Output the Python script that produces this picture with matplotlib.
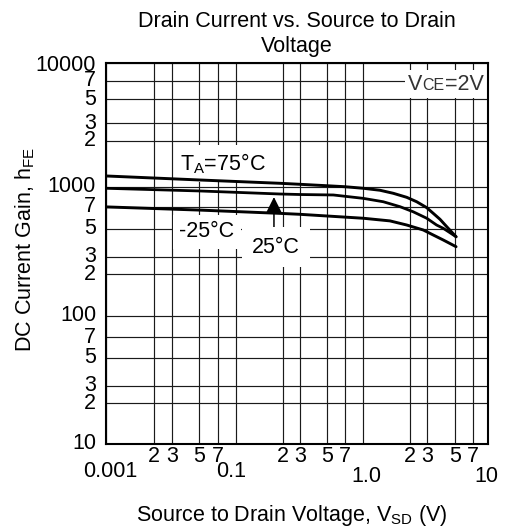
import numpy as np
import matplotlib
matplotlib.use('Agg')
import matplotlib.pyplot as plt
from matplotlib.offsetbox import TextArea, HPacker, AnchoredOffsetbox

plt.rcParams['font.family'] = ['Liberation Sans', 'DejaVu Sans']
plt.rcParams['mathtext.fontset'] = 'custom'
plt.rcParams['mathtext.rm'] = 'Liberation Sans'
plt.rcParams['mathtext.it'] = 'Liberation Sans:italic'

# curves (x in grid units, hFE)
vsd_75 = [0.001, 0.00507, 0.0192, 0.030, 0.0494, 0.0697, 0.1, 0.128, 0.156,
          0.1905, 0.234, 0.296, 0.335, 0.379, 0.429, 0.51]
hfe_75 = [1174, 1104, 1050, 1034, 1012, 996, 969, 936, 887,
          826, 764, 690, 633, 579, 518, 434]

vsd_25 = [0.001, 0.00507, 0.0192, 0.030, 0.056, 0.1, 0.1345, 0.1725, 0.216,
          0.296, 0.356, 0.403, 0.456, 0.51]
hfe_25 = [969, 924, 876, 868, 861, 811, 764, 700, 648,
          588, 531, 505, 467, 434]

vsd_m25 = [0.001, 0.00507, 0.0192, 0.030, 0.1, 0.1486, 0.1905, 0.273, 0.335,
           0.403, 0.51]
hfe_m25 = [698, 665, 633, 624, 588, 565, 531, 491, 448,
           409, 362]

# axis labelling (the printed decade labels are kept as in the source)
x_decades = [0.001, 0.01, 0.1, 1.0]
x_decade_labels = ['0.001', '0.1', '1.0', '10']
y_decades = [10, 100, 1000, 10000]
y_decade_labels = ['10', '100', '1000', '10000']
minor_steps = [2, 3, 5, 7]

# the printed grid is only roughly logarithmic: grid value -> pixel of the sheet
x_grid_px = [106, 154, 171.7, 199.3, 217.7, 235.7, 282.7, 300, 327.3, 345.3,
             363.3, 410, 427.3, 455, 473.3, 487.7]
y_grid_px = [443.5, 403.3, 385.7, 357.7, 337.3, 315.7, 274, 257, 229, 206.7,
             186.5, 141, 123.3, 99.3, 80.7, 63.3]

FS = 15.5


def grid_values(decades):
    vals = []
    for d in decades[:-1]:
        vals += [d] + [d * m for m in minor_steps]
    return vals + [decades[-1]]


def make_scale(vals, pos):
    lv = np.log10(vals)
    pos = np.asarray(pos, float)
    s0 = (pos[1] - pos[0]) / (lv[1] - lv[0])
    s1 = (pos[-1] - pos[-2]) / (lv[-1] - lv[-2])
    lv = np.concatenate([[lv[0] - 10], lv, [lv[-1] + 10]])
    pos = np.concatenate([[pos[0] - 10 * s0], pos, [pos[-1] + 10 * s1]])

    def fwd(v):
        return np.interp(np.log10(np.clip(v, 1e-20, None)), lv, pos)

    def inv(p):
        return 10 ** np.interp(p, pos, lv)
    return fwd, inv


x_vals = grid_values(x_decades)
y_vals = grid_values(y_decades)

fig = plt.figure(figsize=(5.05, 5.31), dpi=100)
left, right, top, bottom = 106, 487.7, 63.3, 443.5
ax = fig.add_axes([left / 505, 1 - bottom / 531, (right - left) / 505,
                   (bottom - top) / 531])
ax.set_xscale('function', functions=make_scale(x_vals, x_grid_px))
ax.set_yscale('function', functions=make_scale(y_vals, [bottom - p for p in y_grid_px]))
ax.set_xlim(0.001, 1.0)
ax.set_ylim(10, 10000)

# grid at decades and 2,3,5,7
for v in x_vals:
    ax.axvline(v, color='#1a1a1a', lw=0.85, zorder=1)
for v in y_vals:
    ax.axhline(v, color='#1a1a1a', lw=0.85, zorder=1)

ax.set_xticks([])
ax.set_yticks([])
ax.set_xticks([], minor=True)
ax.set_yticks([], minor=True)
for s in ax.spines.values():
    s.set_linewidth(1.5)
    s.set_zorder(6)

# curves (above the white label boxes)
ax.plot(vsd_75, hfe_75, color='black', lw=2.1, zorder=5, solid_capstyle='round')
ax.plot(vsd_25, hfe_25, color='black', lw=2.0, zorder=5, solid_capstyle='round')
ax.plot(vsd_m25, hfe_m25, color='black', lw=2.1, zorder=5, solid_capstyle='round')

# tick labels
xo = [(4, -28), (-5, -28), (3, -33), (-1, -33)]
for d, lbl, off in zip(x_decades, x_decade_labels, xo):
    ax.annotate(lbl, xy=(d, 0), xycoords=('data', 'axes fraction'),
                xytext=off, textcoords='offset pixels',
                ha='center', va='center', fontsize=FS, annotation_clip=False)
for d in x_decades[:-1]:
    for m in minor_steps:
        ax.annotate(str(m), xy=(d * m, 0), xycoords=('data', 'axes fraction'),
                    xytext=(0, -13), textcoords='offset pixels',
                    ha='center', va='center', fontsize=FS, annotation_clip=False)

for d, lbl in zip(y_decades, y_decade_labels):
    dy = -2 if d == 10000 else 0
    ax.annotate(lbl, xy=(0, d), xycoords=('axes fraction', 'data'),
                xytext=(-10, dy), textcoords='offset pixels',
                ha='right', va='center', fontsize=FS, annotation_clip=False)
for d in y_decades[:-1]:
    for m in minor_steps:
        ax.annotate(str(m), xy=(0, d * m), xycoords=('axes fraction', 'data'),
                    xytext=(-10, 0), textcoords='offset pixels',
                    ha='right', va='center', fontsize=FS, annotation_clip=False)

# curve labels
box = dict(facecolor='white', edgecolor='none', boxstyle='square,pad=0.3')
ax.text(0.0035, 1285, r'T$_\mathregular{A}$=75°C', fontsize=FS,
        ha='left', va='baseline', bbox=box, zorder=4)
ax.text(0.00575, 476, '-25°C', fontsize=FS, ha='center', va='center',
        bbox=box, zorder=4)
ax.text(0.0181, 360, '25°C', fontsize=FS, ha='center', va='center',
        bbox=dict(facecolor='white', edgecolor='none',
                  boxstyle='square,pad=0.45'), zorder=4)
ax.annotate('', xy=(0.01758, 830), xytext=(0.01758, 373),
            arrowprops=dict(arrowstyle='-|>,head_length=0.7,head_width=0.35',
                            color='black', lw=1.1, shrinkA=0, shrinkB=0,
                            mutation_scale=14), zorder=3)

# VCE condition box
vce = HPacker(children=[TextArea('V', textprops=dict(fontsize=FS, color='#333333')),
                        TextArea('CE', textprops=dict(fontsize=11.5, color='#333333')),
                        TextArea('=2V', textprops=dict(fontsize=FS, color='#333333'))],
              align='baseline', pad=0, sep=0)
anch = AnchoredOffsetbox(loc='upper right', child=vce, pad=0.25, borderpad=0.0,
                         frameon=True, bbox_to_anchor=(0.998, 0.982),
                         bbox_transform=ax.transAxes)
anch.patch.set_facecolor('white')
anch.patch.set_edgecolor('none')
anch.set_zorder(4)
ax.add_artist(anch)

# titles
fig.text(297 / 505, 1 - 11 / 531, 'Drain Current vs. Source to Drain\nVoltage',
         ha='center', va='top', fontsize=FS, linespacing=1.25)
fig.text(25 / 505, 1 - 250 / 531, r'DC Current Gain, h$_\mathregular{FE}$',
         rotation=90, ha='center', va='center', fontsize=FS)
fig.text(292 / 505, 1 - 515 / 531,
         r'Source to Drain Voltage, V$_\mathregular{SD}$ (V)',
         ha='center', va='center', fontsize=FS)

fig.savefig('out.png', dpi=100)
